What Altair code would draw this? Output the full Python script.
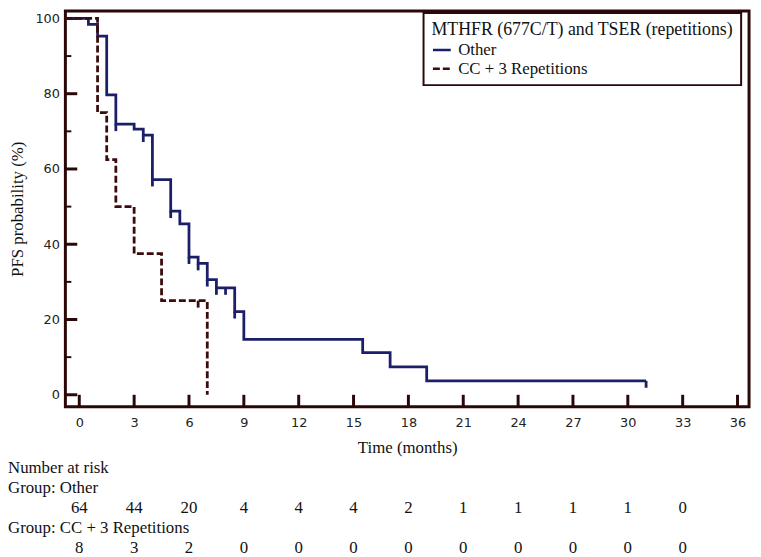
import altair as alt
import pandas as pd

# ---- data ----
groups = ["Other", "CC + 3 Repetitions"]

other_t = [-0.76, 0.5, 1.0, 1.5, 2.0, 3.0, 3.5, 4.0, 5.0, 5.5, 6.0, 6.5, 7.0, 7.5, 8.5, 9.0, 15.5, 17.0, 19.0, 31.0]
other_p = [100, 98.4, 95.3, 79.7, 71.9, 70.6, 69.0, 57.2, 48.8, 45.4, 36.6, 34.9, 30.6, 28.4, 22.1, 14.7, 11.2, 7.4, 3.7, 3.7]
cc_t = [-0.76, 1.0, 1.5, 2.0, 3.0, 4.5, 7.0]
cc_p = [100, 75.0, 62.5, 50.0, 37.5, 25.0, 0.0]

other_cens_t = [2.0, 3.5, 4.0, 5.0, 6.0, 6.5, 7.0, 7.5, 8.0, 8.5, 31.0]
other_cens_p = [71.9, 69.0, 57.2, 48.8, 36.6, 34.9, 30.6, 28.4, 28.4, 22.1, 3.7]
cc_cens_t = [6.5]
cc_cens_p = [25.0]

risk_t = [0, 3, 6, 9, 12, 15, 18, 21, 24, 27, 30, 33]
risk_other = [64, 44, 20, 4, 4, 4, 2, 1, 1, 1, 1, 0]
risk_cc = [8, 3, 2, 0, 0, 0, 0, 0, 0, 0, 0, 0]

x_ticks = [0, 3, 6, 9, 12, 15, 18, 21, 24, 27, 30, 33, 36]
y_major = [0, 20, 40, 60, 80, 100]
y_minor = [10, 30, 50, 70, 90]

# ---- styles ----
FRAME = "#2a0808"
NAVY = "#1b1f68"
MAROON = "#3c0b0b"
SERIF = "Liberation Serif"
SANS = "DejaVu Sans"

line_df = pd.concat([
    pd.DataFrame({"t": other_t, "p": other_p, "group": groups[0], "i": range(len(other_t))}),
    pd.DataFrame({"t": cc_t, "p": cc_p, "group": groups[1], "i": range(len(cc_t))}),
])

xs = alt.Scale(domain=[-0.76, 36.63], nice=False, zero=False)
ys = alt.Scale(domain=[-3.16, 102.0], nice=False, zero=False)

x_axis = alt.Axis(values=x_ticks, title="Time (months)", grid=False, domain=False, ticks=False,
                  labelFont=SANS, labelFontSize=13, labelColor="#222", labelPadding=10,
                  labelFlush=False, titleFont=SERIF, titleFontSize=17, titleFontWeight="normal",
                  titleColor="#111", titlePadding=10)
y_axis = alt.Axis(values=y_major, title="PFS probability (%)", grid=False, domain=False, ticks=False,
                  labelFont=SANS, labelFontSize=13, labelColor="#222", labelPadding=6,
                  labelFlush=False, titleFont=SERIF, titleFontSize=17, titleFontWeight="normal",
                  titleColor="#111", titlePadding=9)

X = alt.X("t:Q", scale=xs, axis=x_axis)
Y = alt.Y("p:Q", scale=ys, axis=y_axis)

leg = alt.Legend(title="MTHFR (677C/T) and TSER (repetitions)", orient="none", legendX=362, legendY=2,
                 direction="vertical", fillColor="white", strokeColor=FRAME, padding=8,
                 titleFont=SERIF, titleFontSize=18, titleFontWeight="normal", titleColor="#111",
                 titleLimit=500, labelLimit=400,
                 labelFont=SERIF, labelFontSize=17, labelColor="#111",
                 symbolType="stroke", symbolSize=324, symbolStrokeWidth=2.5,
                 rowPadding=0, titlePadding=1, labelOffset=6)

lines = alt.Chart(line_df).mark_line(interpolate="step-after", strokeWidth=2.8).encode(
    x=X, y=Y,
    color=alt.Color("group:N", scale=alt.Scale(domain=groups, range=[NAVY, MAROON]), legend=leg),
    strokeDash=alt.StrokeDash("group:N", scale=alt.Scale(domain=groups, range=[[1, 0], [7, 3]]), legend=leg),
    order="i:Q",
)

cens_other = alt.Chart(pd.DataFrame({"t": other_cens_t, "p": other_cens_p})).mark_rule(
    color=NAVY, strokeWidth=2.8, y2Offset=7).encode(x=X, y=Y, y2="p:Q")
cens_cc = alt.Chart(pd.DataFrame({"t": cc_cens_t, "p": cc_cens_p})).mark_rule(
    color=MAROON, strokeWidth=2.8, y2Offset=7).encode(x=X, y=Y, y2="p:Q")

xt = alt.Chart(pd.DataFrame({"t": x_ticks})).mark_rule(color=FRAME, strokeWidth=3).encode(
    x=X, y=alt.value(400), y2=alt.value(388))
yt_major = alt.Chart(pd.DataFrame({"p": y_major})).mark_rule(color=FRAME, strokeWidth=3).encode(
    y=Y, x=alt.value(0), x2=alt.value(12))
yt_minor = alt.Chart(pd.DataFrame({"p": y_minor})).mark_rule(color=FRAME, strokeWidth=2).encode(
    y=Y, x=alt.value(0), x2=alt.value(6))


def label_row(text, y):
    return alt.Chart(pd.DataFrame({"a": [0]})).mark_text(
        align="left", baseline="middle", font=SERIF, fontSize=17, color="#111").encode(
        x=alt.value(-58), y=alt.value(y), text=alt.value(text))


def number_row(values, y):
    return alt.Chart(pd.DataFrame({"t": risk_t, "n": values})).mark_text(
        align="center", baseline="middle", font=SERIF, fontSize=17, color="#111").encode(
        x=X, y=alt.value(y), text="n:Q")


chart = alt.layer(
    xt, yt_major, yt_minor, cens_cc, cens_other, lines,
    label_row("Number at risk", 462),
    label_row("Group: Other", 482),
    number_row(risk_other, 502),
    label_row("Group: CC + 3 Repetitions", 523),
    number_row(risk_cc, 542.5),
).properties(
    width=691, height=400,
    padding={"left": 58, "top": 0, "right": 4, "bottom": 149},
    autosize=alt.AutoSizeParams(type="none"),
).configure_view(stroke=FRAME, strokeWidth=3).configure_legend(strokeWidth=2)

chart.save("out.html", embed_options={"renderer": "svg", "actions": False})
